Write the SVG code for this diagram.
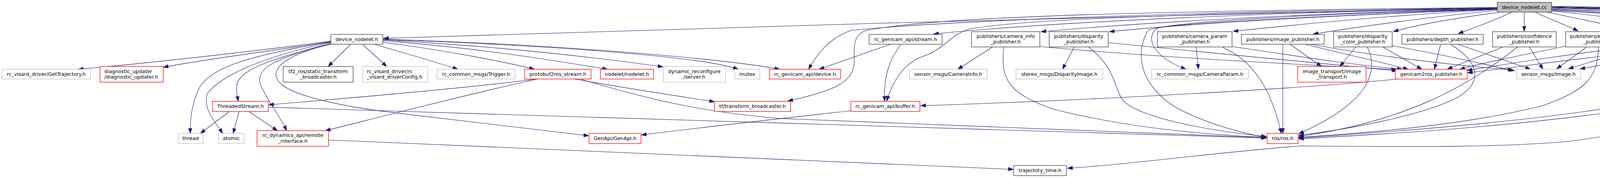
<svg xmlns="http://www.w3.org/2000/svg" width="5980" height="455" viewBox="0 0 5980 455">
<style>
.node rect{fill:#ffffff;stroke-width:1.33}
.doc rect{stroke:#404040}
.ext rect{stroke:#bfbfbf}
.red rect{stroke:#ff0000}
.root rect{fill:#bfbfbf;stroke:#404040}
.node text{font-family:"DejaVu Sans","Liberation Sans",sans-serif;font-size:12.8px;fill:#000000;text-anchor:middle}
.node text.l{text-anchor:start}
#edges path{fill:none;stroke:#191970;stroke-width:1.1;marker-end:url(#a)}
</style>
<defs>
<marker id="a" markerWidth="14" markerHeight="11" refX="13" refY="5" orient="auto" markerUnits="userSpaceOnUse">
<path d="M0,0.5 L13,5 L0,9.5 z" fill="#191970" stroke="#191970" stroke-width="1"/>
</marker>
</defs>
<rect x="0" y="0" width="5980" height="455" fill="#ffffff"/>
<g id="edges">
<path d="M3833,19 C3200,30 1800,72 982,98"/>
<path d="M3833,21 C3300,30 2700,55 2390,87"/>
<path d="M3833,22 C3300,35 2900,60 2665,81"/>
<path d="M3833,23 C3400,40 3050,60 2840,81"/>
<path d="M3833,24 C3550,40 3350,60 3157,80"/>
<path d="M3833,26 C3650,45 3480,68 3362,87"/>
<path d="M3840,31 C3700,50 3620,65 3567,81"/>
<path d="M3870,31 C3830,50 3790,65 3733,86"/>
<path d="M3902,31 L3902,80"/>
<path d="M3833,24 C3400,40 3000,60 2963,72 C2935,90 2940,140 3036,177"/>
<path d="M3833,23 C3400,35 2960,55 2937,80 C2900,150 2930,230 3020,280 C3100,320 3180,340 3242,352"/>
<path d="M3833,20 C3000,30 2400,55 2177,78 C2120,100 2090,140 2070,177"/>
<path d="M3833,22 C3000,35 2600,50 2480,75 C2430,90 2420,125 2360,145 C2310,165 2285,210 2270,258"/>
<path d="M3833,19 C3000,28 2400,40 2217,78 C2180,90 2187,130 2187,157 C2185,205 2150,230 2017,258"/>
<path d="M3972,27 C4200,40 4450,50 4500,57 C4590,80 4590,110 4560,150 C4500,230 4300,330 4000,363 C3800,378 3600,375 3333,373 C3150,385 2900,420 2733,430"/>
<path d="M3930,31 C3970,50 4010,65 4040,79"/>
<path d="M3960,31 C4050,50 4150,70 4195,81"/>
<path d="M3972,28 C4150,45 4300,70 4362,80"/>
<path d="M3972,25 C4250,40 4500,65 4630,81"/>
<path d="M3972,23 C4400,40 4800,70 4905,88"/>
<path d="M3972,21 C4500,35 4950,65 5080,81"/>
<path d="M3972,20 C4600,35 5100,65 5265,81"/>
<path d="M3972,19 C4700,35 5380,70 5447,88"/>
<path d="M3972,18 C4800,35 5480,70 5553,88"/>
<path d="M3972,17 C4900,35 5590,70 5655,88"/>
<path d="M3972,16 C4900,30 5600,68 5756,80"/>
<path d="M3972,24 C4400,40 4760,60 4800,72 C4840,82 4850,110 4880,120 C4950,140 5020,155 5085,170"/>
<path d="M847,105 C700,125 400,160 200,177"/>
<path d="M847,106 C700,130 500,155 418,172"/>
<path d="M847,107 C650,140 540,170 510,225 C490,270 487,300 487,341"/>
<path d="M847,108 C650,150 560,200 530,240 C520,280 550,310 570,341"/>
<path d="M847,110 C700,150 620,175 607,213 C603,235 608,248 610,259"/>
<path d="M847,112 C700,150 650,175 668,220 C690,265 715,295 734,334"/>
<path d="M847,113 C730,140 680,180 720,215 C760,250 900,275 1000,287 C1200,310 1400,335 1507,347"/>
<path d="M898,113 L840,170"/>
<path d="M928,113 L990,170"/>
<path d="M958,113 C1050,140 1120,160 1172,177"/>
<path d="M980,108 C1150,130 1300,160 1368,177"/>
<path d="M980,104 C1250,125 1450,160 1555,177"/>
<path d="M980,102 C1300,120 1550,150 1697,171"/>
<path d="M980,101 C1400,115 1800,145 1890,177"/>
<path d="M980,100 C1450,115 1850,150 1996,177"/>
<path d="M2280,113 L2097,177"/>
<path d="M2307,113 C2270,160 2262,210 2265,259"/>
<path d="M1373,202 C1200,225 900,250 688,268"/>
<path d="M1376,202 C1200,240 950,305 833,334"/>
<path d="M1470,202 C1600,225 1750,248 1829,260"/>
<path d="M1485,202 C1650,250 1780,285 2000,303 C2500,320 3000,345 3242,352"/>
<path d="M587,285 L513,341"/>
<path d="M612,285 L597,341"/>
<path d="M637,285 L710,334"/>
<path d="M687,274 C1200,290 2500,330 3242,353"/>
<path d="M2178,283 C2000,303 1800,325 1642,345"/>
<path d="M3578,202 C3300,230 2700,260 2357,270"/>
<path d="M841,358 C1500,385 2200,415 2594,433"/>
<path d="M2541,120 L2452,177"/>
<path d="M2570,121 C2560,200 2580,240 2700,280 C2900,330 3100,345 3242,351"/>
<path d="M2662,119 C3000,150 3400,168 3575,178"/>
<path d="M2750,120 L2720,177"/>
<path d="M2787,120 C2850,170 2850,210 2870,250 C2900,300 3100,335 3242,349"/>
<path d="M2837,109 C3100,135 3400,165 3577,181"/>
<path d="M3062,120 L3068,177"/>
<path d="M3130,121 C3220,160 3260,250 3280,341"/>
<path d="M3154,119 C3300,140 3450,165 3590,177"/>
<path d="M3284,113 L3284,341"/>
<path d="M3302,113 L3383,170"/>
<path d="M3340,113 C3450,140 3540,160 3605,177"/>
<path d="M3355,113 C3500,140 3700,165 3873,179"/>
<path d="M3471,120 L3430,170"/>
<path d="M3500,120 C3530,180 3510,260 3325,342"/>
<path d="M3540,120 L3640,177"/>
<path d="M3564,117 C3700,140 3800,165 3877,181"/>
<path d="M3688,113 L3672,177"/>
<path d="M3732,113 L3918,177"/>
<path d="M3713,113 C3790,160 3800,215 3720,255 C3620,300 3450,330 3325,346"/>
<path d="M3848,120 L3705,177"/>
<path d="M3915,120 L3950,177"/>
<path d="M3885,120 C3760,220 3600,310 3325,349"/>
<path d="M4062,120 L3985,176"/>
<path d="M4120,120 L4203,177"/>
<path d="M4092,120 C4090,200 4060,230 3950,270 C3750,320 3500,340 3325,351"/>
<path d="M4008,118 C3900,140 3800,160 3737,177"/>
<path d="M4260,120 L4232,177"/>
<path d="M4200,119 L4015,176"/>
<path d="M4297,120 C4360,180 4350,220 4250,250 C4050,300 3600,335 3325,353"/>
<path d="M4200,117 C4000,140 3850,165 3756,180"/>
<path d="M4406,120 L4267,177"/>
<path d="M4366,118 L4045,176"/>
<path d="M4445,120 C4380,200 4300,260 4100,290 C3800,330 3500,345 3325,355"/>
<path d="M4366,116 C4100,140 3900,170 3757,186"/>
<path d="M4717,120 L4717,177"/>
<path d="M4770,120 L4915,177"/>
<path d="M4805,117 C4900,135 5000,155 5072,170"/>
</g>
<g id="n_root" class="node root"><rect x="3833" y="6" width="139" height="25"/><text x="3902.5" y="23">device_nodelet.cc</text></g>
<g id="n_dnh" class="node doc"><rect x="847" y="88" width="133" height="25"/><text x="913.5" y="105">device_nodelet.h</text></g>
<g id="n_gt" class="node ext"><rect x="5" y="177" width="227" height="25"/><text x="118.5" y="194">rc_visard_driver/GetTrajectory.h</text></g>
<g id="n_du" class="node red"><rect x="256" y="170" width="162" height="40"/><text class="l" x="267" y="187">diagnostic_updater</text><text class="l" x="267" y="201">/diagnostic_updater.h</text></g>
<g id="n_tf2" class="node doc"><rect x="725" y="170" width="179" height="40"/><text x="814.5" y="187">tf2_ros/static_transform</text><text x="814.5" y="201">_broadcaster.h</text></g>
<g id="n_cfg" class="node ext"><rect x="929" y="170" width="166" height="40"/><text class="l" x="939" y="187">rc_visard_driver/rc</text><text class="l" x="939" y="201">_visard_driverConfig.h</text></g>
<g id="n_trg" class="node ext"><rect x="1119" y="177" width="199" height="25"/><text x="1218.5" y="194">rc_common_msgs/Trigger.h</text></g>
<g id="n_p2rs" class="node red"><rect x="1343" y="177" width="170" height="25"/><text x="1428" y="194">protobuf2ros_stream.h</text></g>
<g id="n_nod" class="node red"><rect x="1537" y="177" width="136" height="25"/><text x="1605" y="194">nodelet/nodelet.h</text></g>
<g id="n_dyn" class="node ext"><rect x="1698" y="170" width="159" height="40"/><text x="1777.5" y="187">dynamic_reconfigure</text><text x="1777.5" y="201">/server.h</text></g>
<g id="n_mut" class="node ext"><rect x="1881" y="177" width="64" height="25"/><text x="1913" y="194">mutex</text></g>
<g id="n_dev" class="node red"><rect x="1970" y="177" width="182" height="25"/><text x="2061" y="194">rc_genicam_api/device.h</text></g>
<g id="n_str" class="node doc"><rect x="2225" y="88" width="187" height="25"/><text x="2318.5" y="105">rc_genicam_api/stream.h</text></g>
<g id="n_cip" class="node doc"><rect x="2487" y="81" width="175" height="39"/><text x="2574.5" y="97">publishers/camera_info</text><text x="2574.5" y="111">_publisher.h</text></g>
<g id="n_ci" class="node ext"><rect x="2328" y="177" width="199" height="25"/><text x="2427.5" y="194">sensor_msgs/CameraInfo.h</text></g>
<g id="n_dp" class="node doc"><rect x="2686" y="81" width="151" height="39"/><text x="2761.5" y="97">publishers/disparity</text><text x="2761.5" y="111">_publisher.h</text></g>
<g id="n_di" class="node ext"><rect x="2601" y="177" width="222" height="25"/><text x="2712" y="194">stereo_msgs/DisparityImage.h</text></g>
<g id="n_cpp" class="node doc"><rect x="2963" y="81" width="191" height="39"/><text x="3058.5" y="97">publishers/camera_param</text><text x="3058.5" y="111">_publisher.h</text></g>
<g id="n_cp" class="node ext"><rect x="2948" y="177" width="248" height="25"/><text x="3072" y="194">rc_common_msgs/CameraParam.h</text></g>
<g id="n_ip" class="node doc"><rect x="3178" y="88" width="212" height="25"/><text x="3284" y="105">publishers/image_publisher.h</text></g>
<g id="n_dcp" class="node doc"><rect x="3414" y="81" width="150" height="39"/><text x="3489" y="97">publishers/disparity</text><text x="3489" y="111">_color_publisher.h</text></g>
<g id="n_it" class="node red"><rect x="3322" y="170" width="175" height="40"/><text x="3409.5" y="187">image_transport/image</text><text x="3409.5" y="201">_transport.h</text></g>
<g id="n_dep" class="node doc"><rect x="3589" y="88" width="208" height="25"/><text x="3693" y="105">publishers/depth_publisher.h</text></g>
<g id="n_g2r" class="node red"><rect x="3572" y="177" width="184" height="25"/><text x="3664" y="194">genicam2ros_publisher.h</text></g>
<g id="n_conf" class="node doc"><rect x="3821" y="81" width="163" height="39"/><text x="3902.5" y="97">publishers/confidence</text><text x="3902.5" y="111">_publisher.h</text></g>
<g id="n_img" class="node ext"><rect x="3882" y="177" width="164" height="25"/><text x="3964" y="194">sensor_msgs/Image.h</text></g>
<g id="n_edp" class="node doc"><rect x="4008" y="81" width="168" height="39"/><text x="4092" y="97">publishers/error_depth</text><text x="4092" y="111">_publisher.h</text></g>
<g id="n_pts" class="node doc"><rect x="4200" y="81" width="141" height="39"/><text x="4270.5" y="97">publishers/points2</text><text x="4270.5" y="111">_publisher.h</text></g>
<g id="n_edi" class="node doc"><rect x="4366" y="81" width="188" height="39"/><text x="4460" y="97">publishers/error_disparity</text><text x="4460" y="111">_publisher.h</text></g>
<g id="n_il" class="node red"><rect x="4122" y="177" width="201" height="25"/><text x="4222.5" y="194">rc_genicam_api/imagelist.h</text></g>
<g id="n_pbc" class="node red"><rect x="4629" y="81" width="176" height="39"/><text x="4717" y="97">publishers/protobuf2ros</text><text x="4717" y="111">_conversions.h</text></g>
<g id="n_imu" class="node ext"><rect x="4618" y="177" width="198" height="25"/><text x="4717" y="194">roboception/msgs/imu.pb.h</text></g>
<g id="n_frm" class="node ext"><rect x="4841" y="177" width="213" height="25"/><text x="4947.5" y="194">roboception/msgs/frame.pb.h</text></g>
<g id="n_gcfg" class="node ext"><rect x="4880" y="88" width="179" height="25"/><text x="4969.5" y="105">rc_genicam_api/config.h</text></g>
<g id="n_pix" class="node red"><rect x="5082" y="81" width="160" height="39"/><text x="5162" y="97">rc_genicam_api/pixel</text><text x="5162" y="111">_formats.h</text></g>
<g id="n_plg" class="node red"><rect x="5267" y="81" width="143" height="39"/><text x="5338.5" y="97">pluginlib/class_list</text><text x="5338.5" y="111">_macros.h</text></g>
<g id="n_exc" class="node ext"><rect x="5434" y="88" width="87" height="25"/><text x="5477.5" y="105">exception</text></g>
<g id="n_sst" class="node ext"><rect x="5545" y="88" width="75" height="25"/><text x="5582.5" y="105">sstream</text></g>
<g id="n_stx" class="node ext"><rect x="5645" y="88" width="86" height="25"/><text x="5688" y="105">stdexcept</text></g>
<g id="n_rcc" class="node ext"><rect x="5756" y="81" width="219" height="39"/><text x="5865.5" y="97">rc_common_msgs/ReturnCode</text><text x="5865.5" y="111">Constants.h</text></g>
<g id="n_geo" class="node ext"><rect x="5079" y="170" width="266" height="40"/><text x="5212" y="187">geometry_msgs/PoseWithCovariance</text><text x="5212" y="201">Stamped.h</text></g>
<g id="n_ts" class="node red"><rect x="544" y="259" width="143" height="26"/><text x="615.5" y="276">ThreadedStream.h</text></g>
<g id="n_tfb" class="node red"><rect x="1829" y="259" width="195" height="26"/><text x="1926.5" y="276">tf/transform_broadcaster.h</text></g>
<g id="n_buf" class="node red"><rect x="2178" y="259" width="177" height="26"/><text x="2266.5" y="276">rc_genicam_api/buffer.h</text></g>
<g id="n_thr" class="node ext"><rect x="456" y="341" width="64" height="26"/><text x="488" y="358">thread</text></g>
<g id="n_ato" class="node ext"><rect x="559" y="341" width="66" height="26"/><text x="592" y="358">atomic</text></g>
<g id="n_rdi" class="node red"><rect x="658" y="334" width="183" height="40"/><text x="749.5" y="350">rc_dynamics_api/remote</text><text x="749.5" y="365">_interface.h</text></g>
<g id="n_gen" class="node red"><rect x="1508" y="341" width="133" height="26"/><text x="1574.5" y="358">GenApi/GenApi.h</text></g>
<g id="n_ros" class="node red"><rect x="3244" y="341" width="79" height="26"/><text x="3283.5" y="358">ros/ros.h</text></g>
<g id="n_tt" class="node doc"><rect x="2595" y="423" width="135" height="26"/><text x="2662.5" y="440">trajectory_time.h</text></g>
</svg>
